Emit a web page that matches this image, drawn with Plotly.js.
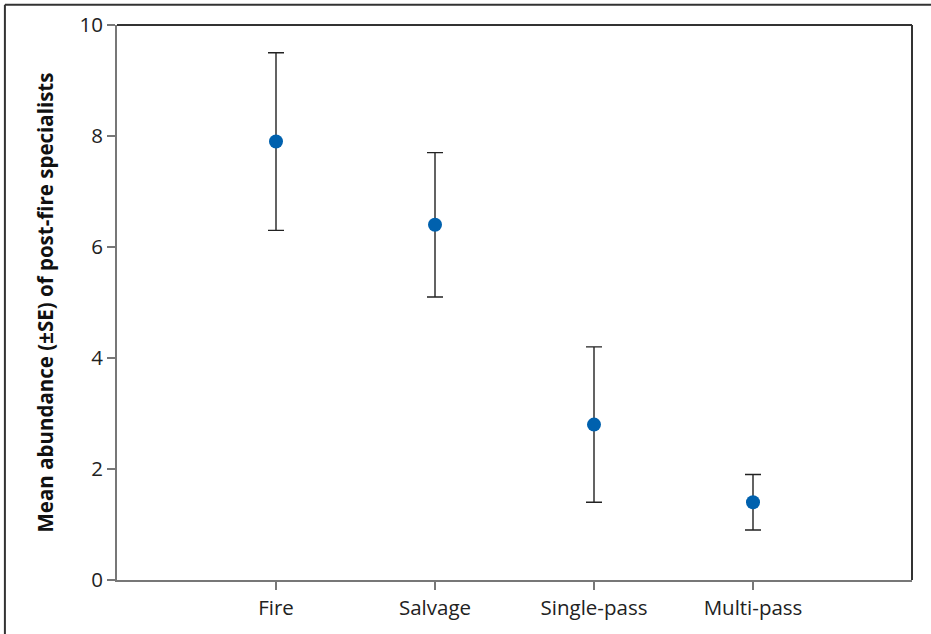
<!DOCTYPE html>
<html>
<head>
<meta charset="utf-8">
<script src="https://cdn.plot.ly/plotly-3.0.1.min.js"></script>
<style>html,body{margin:0;padding:0;background:#fff;}#chart{width:931px;height:634px;}</style>
</head>
<body>
<div id="chart"></div>
<script>
const categories = ["Fire", "Salvage", "Single-pass", "Multi-pass"];
const means = [7.9, 6.4, 2.8, 1.4];
const errUpper = [1.6, 1.3, 1.4, 0.5];
const errLower = [1.6, 1.3, 1.4, 0.5];
const yTicks = [0, 2, 4, 6, 8, 10];

const fontFam = "Open Sans, Lato, sans-serif";

const trace = {
  type: "scatter",
  mode: "markers",
  x: categories,
  y: means,
  marker: {color: "#0061ae", size: 14},
  error_y: {
    type: "data", symmetric: false,
    array: errUpper, arrayminus: errLower,
    color: "#222", thickness: 1.4, width: 8
  },
  showlegend: false,
  hoverinfo: "x+y"
};

const layout = {
  width: 931, height: 634,
  margin: {l: 117, r: 19, t: 25, b: 54},
  paper_bgcolor: "#fff", plot_bgcolor: "#fff",
  font: {family: fontFam, color: "#222", size: 20},
  xaxis: {
    type: "category", range: [-1, 4],
    showgrid: false, zeroline: false,
    showline: true, linecolor: "#777", linewidth: 2,
    ticks: "outside", ticklen: 8, tickcolor: "#777", tickwidth: 2,
    tickfont: {family: fontFam, size: 20.5, color: "#222"},
    fixedrange: true
  },
  yaxis: {
    range: [0, 10], tickvals: yTicks,
    showgrid: false, zeroline: false,
    showline: true, linecolor: "#777", linewidth: 2,
    ticks: "outside", ticklen: 8, tickcolor: "#777", tickwidth: 1.5,
    tickfont: {family: fontFam, size: 20.5, color: "#222"},
    title: {text: "<b>Mean abundance (±SE) of post-fire specialists</b>", font: {family: fontFam, size: 20.5, color: "#111"}, standoff: 20},
    fixedrange: true
  },
  shapes: [
    {type: "line", xref: "paper", yref: "paper", x0: 0, x1: 1, y0: 1, y1: 1, line: {color: "#333", width: 2}},
    {type: "line", xref: "paper", yref: "paper", x0: 1, x1: 1, y0: 0, y1: 1, line: {color: "#333", width: 2}},
    {type: "line", xref: "paper", yref: "paper", x0: -0.141, x1: 1.03, y0: 1.0365, y1: 1.0365, line: {color: "#333", width: 2}},
    {type: "line", xref: "paper", yref: "paper", x0: -0.141, x1: -0.141, y0: -0.11, y1: 1.0365, line: {color: "#333", width: 2}}
  ]
};

Plotly.newPlot("chart", [trace], layout, {displayModeBar: false, staticPlot: true});
</script>
</body>
</html>
